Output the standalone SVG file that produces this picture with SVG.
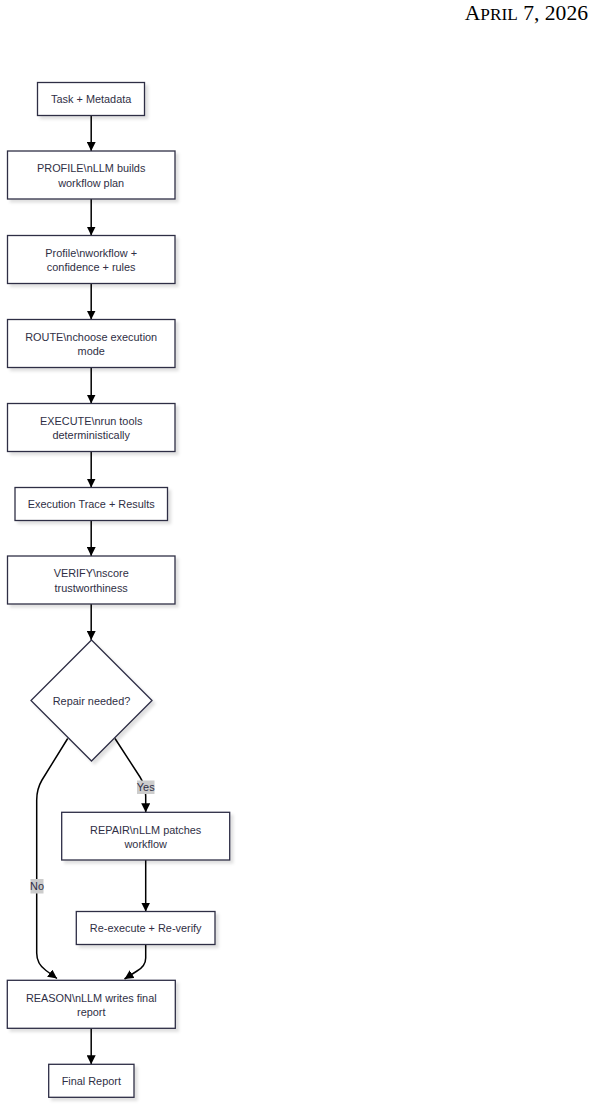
<svg xmlns="http://www.w3.org/2000/svg" width="594" height="1107" viewBox="0 0 594 1107">
<style>
.box{fill:#ffffff;stroke:#2f2f45;stroke-width:1.3;filter:url(#sh)}
.t{font-family:"Liberation Sans",Arial,sans-serif;font-size:10.9px;fill:#2f2f45;text-anchor:middle;dominant-baseline:central}
.e{fill:none;stroke:#000000;stroke-width:1.5;marker-end:url(#ah)}
.lb{fill:#cccccc}
.hd{font-family:"Liberation Serif","Times New Roman",serif;fill:#000000;text-anchor:end}
</style>
<defs>
<filter id="sh" x="-10%" y="-10%" width="130%" height="140%">
<feDropShadow dx="3" dy="3" stdDeviation="1.5" flood-color="#000000" flood-opacity="0.12"/>
</filter>
<marker id="ah" viewBox="0 0 10 10" refX="10" refY="5" markerWidth="9" markerHeight="9" markerUnits="userSpaceOnUse" orient="auto">
<path d="M0,0 L10,5 L0,10 z" fill="#000000"/>
</marker>
</defs>
<text class="hd" x="588" y="20" font-size="21.6">A<tspan font-size="17.3">PRIL</tspan> 7, 2026</text>
<g id="connectors">
<path class="e" d="M91.2,115.5 L91.2,151"/>
<path class="e" d="M91.2,199 L91.2,235.5"/>
<path class="e" d="M91.2,283.5 L91.2,319.5"/>
<path class="e" d="M91.2,367.5 L91.2,403.5"/>
<path class="e" d="M91.2,451.5 L91.2,487.5"/>
<path class="e" d="M91.2,520.5 L91.2,556"/>
<path class="e" d="M91.2,604 L91.2,640"/>
<path class="e" d="M115,738.5 L140,777 Q145.7,786 145.7,796 L145.7,812.3"/>
<path class="e" d="M67.7,738.5 L42,780 Q36.7,789 36.7,800 L36.7,953 Q36.7,964 46,970.5 L57,978.5"/>
<path class="e" d="M145.7,860 L145.7,911.5"/>
<path class="e" d="M145.7,944.3 L145.7,958 Q145.7,966 137,971 L124.5,979"/>
<path class="e" d="M91.2,1028.3 L91.2,1064.3"/>
<g id="label-yes"><rect class="lb" x="137" y="780.5" width="17.5" height="13.5"/><text class="t" x="145.7" y="787.3">Yes</text></g>
<g id="label-no"><rect class="lb" x="30.5" y="879" width="13" height="14.5"/><text class="t" x="37" y="886.3">No</text></g>
</g>
<g id="n1"><rect class="box" x="37.5" y="82.5" width="107" height="33"/><text class="t" x="91.2" y="99">Task + Metadata</text></g>
<g id="n2"><rect class="box" x="7.5" y="151" width="167.5" height="48"/><text class="t" x="91.2" y="168.3">PROFILE\nLLM builds</text><text class="t" x="91.2" y="182.7">workflow plan</text></g>
<g id="n3"><rect class="box" x="7.5" y="235.5" width="167.5" height="48"/><text class="t" x="91.2" y="252.8">Profile\nworkflow +</text><text class="t" x="91.2" y="267.2">confidence + rules</text></g>
<g id="n4"><rect class="box" x="7.5" y="319.5" width="167.5" height="48"/><text class="t" x="91.2" y="336.8">ROUTE\nchoose execution</text><text class="t" x="91.2" y="351.2">mode</text></g>
<g id="n5"><rect class="box" x="7.5" y="403.5" width="167.5" height="48"/><text class="t" x="91.2" y="420.8">EXECUTE\nrun tools</text><text class="t" x="91.2" y="435.2">deterministically</text></g>
<g id="n6"><rect class="box" x="15" y="487.5" width="152.5" height="33"/><text class="t" x="91.2" y="504">Execution Trace + Results</text></g>
<g id="n7"><rect class="box" x="7.5" y="556" width="167.5" height="48"/><text class="t" x="91.2" y="573.3">VERIFY\nscore</text><text class="t" x="91.2" y="587.7">trustworthiness</text></g>
<g id="n8"><polygon class="box" points="91.5,640 152,700.5 91.5,761 31,700.5"/><text class="t" x="91.5" y="700.5">Repair needed?</text></g>
<g id="n9"><rect class="box" x="61.7" y="812.3" width="168" height="47.7"/><text class="t" x="145.7" y="829.5">REPAIR\nLLM patches</text><text class="t" x="145.7" y="843.9">workflow</text></g>
<g id="n10"><rect class="box" x="76.3" y="911.5" width="138.7" height="33"/><text class="t" x="145.7" y="928">Re-execute + Re-verify</text></g>
<g id="n11"><rect class="box" x="7.3" y="980.3" width="168" height="48"/><text class="t" x="91.3" y="997.6">REASON\nLLM writes final</text><text class="t" x="91.3" y="1012">report</text></g>
<g id="n12"><rect class="box" x="48.7" y="1064.3" width="85.3" height="33"/><text class="t" x="91.3" y="1080.8">Final Report</text></g>
</svg>
